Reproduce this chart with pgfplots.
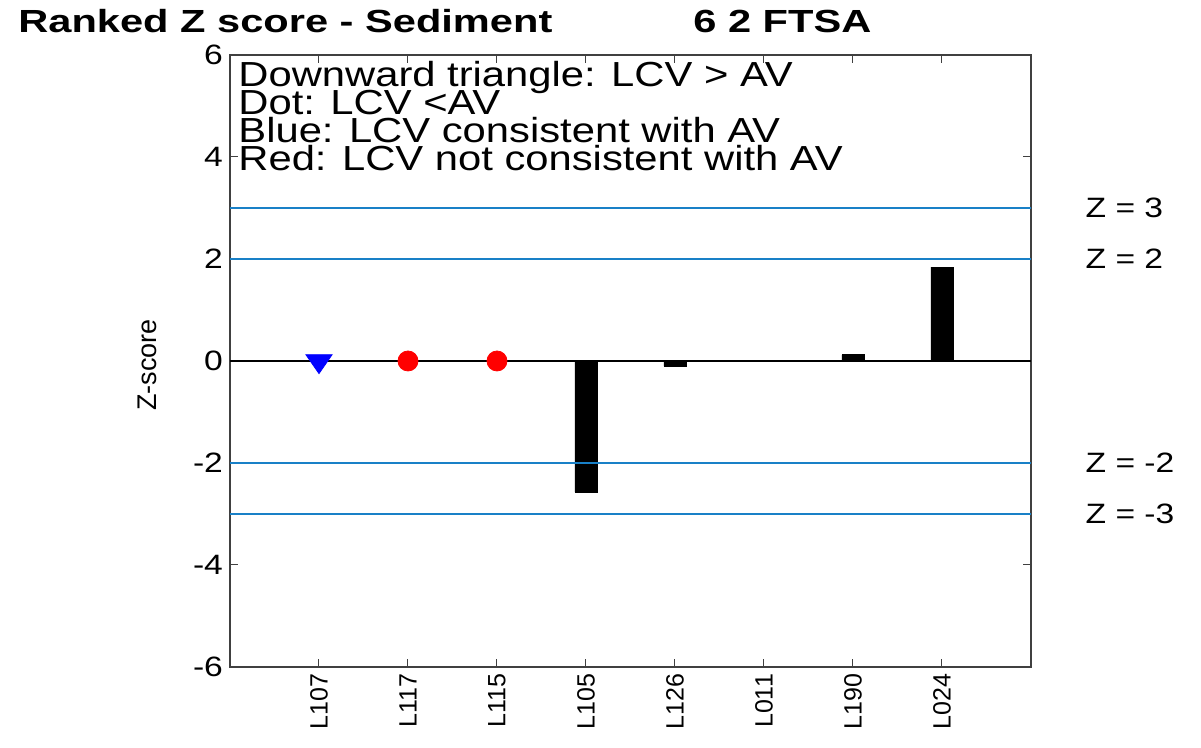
\documentclass[border=0pt]{standalone}
\usepackage{pgfplots}
\pgfplotsset{compat=1.18}
\usepackage{fontspec}
\setmainfont{Liberation Sans}[FakeStretch=1.2]
\newfontfamily\rotfont{Liberation Sans}
\newfontfamily\titlefont{Liberation Sans}[FakeStretch=1.3]
\definecolor{zline}{rgb}{0.1,0.5,0.78}
\newcommand{\tightlines}{\lineskiplimit=-30pt\relax\lineskip=0pt\relax}
\begin{document}
\begin{tikzpicture}
\useasboundingbox (-115pt,-40.5pt) rectangle (485.5pt,333.5pt);
\begin{axis}[
  at={(0pt,0pt)}, anchor=south west,
  scale only axis, width=400.5pt, height=306pt,
  xmin=0, xmax=9, ymin=-6, ymax=6,
  xtick={1,2,3,4,5,6,7,8},
  xticklabels={L107,L117,L115,L105,L126,L011,L190,L024},
  ytick={-6,-4,-2,0,2,4,6},
  tick align=inside, major tick length=4pt,
  xticklabel style={rotate=90, anchor=east, font=\rotfont\fontsize{12.5}{14}\selectfont},
  yticklabel style={font=\fontsize{14}{16}\selectfont},
  /pgf/number format/assume math mode=true,
  clip=false,
  axis line style={line width=0.6pt, black!75},
  tick style={line width=0.5pt, black!75},
]
% bars
\addplot[ybar, bar width=11pt, fill=black, draw=black] coordinates {
  (4,-2.57) (5,-0.10) (7,0.12) (8,1.84)};
% reference lines
\addplot[zline, line width=0.8pt] coordinates {(0,3) (9,3)};
\addplot[zline, line width=0.8pt] coordinates {(0,2) (9,2)};
\addplot[zline, line width=0.8pt] coordinates {(0,-2) (9,-2)};
\addplot[zline, line width=0.8pt] coordinates {(0,-3) (9,-3)};
\addplot[black, line width=1pt] coordinates {(0,0) (9,0)};
% markers
\addplot[only marks, mark=triangle*, mark size=6.3pt, blue, mark options={rotate=180, xscale=1.2, fill=blue, draw=blue}] coordinates {(1,0)};
\addplot[only marks, mark=*, mark size=5pt, red, mark options={fill=red, draw=red}] coordinates {(2,0) (3,0)};
% texts
\node[anchor=north west, align=left, inner sep=0pt, font=\fontsize{17.4}{14}\selectfont\tightlines] at (axis cs:0.09,5.88)
  {Downward triangle: LCV > AV\\Dot: LCV <AV\\Blue: LCV consistent with AV\\Red: LCV not consistent with AV};
\node[anchor=west, inner sep=0pt, font=\fontsize{14}{16}\selectfont] at (axis cs:9.61,3) {Z = 3};
\node[anchor=west, inner sep=0pt, font=\fontsize{14}{16}\selectfont] at (axis cs:9.61,2) {Z = 2};
\node[anchor=west, inner sep=0pt, font=\fontsize{14}{16}\selectfont] at (axis cs:9.61,-2) {Z = -2};
\node[anchor=west, inner sep=0pt, font=\fontsize{14}{16}\selectfont] at (axis cs:9.61,-3) {Z = -3};
\node[rotate=90, anchor=center, font=\rotfont\fontsize{13.5}{15}\selectfont] at (axis cs:-0.93,-0.08) {Z-score};
\end{axis}
\node[anchor=base west, inner sep=0pt, font=\titlefont\bfseries\fontsize{16}{18}\selectfont] at (-106pt,317pt) {Ranked Z score - Sediment};
\node[anchor=base west, inner sep=0pt, font=\titlefont\bfseries\fontsize{16}{18}\selectfont] at (231.5pt,317pt) {6 2 FTSA};
\end{tikzpicture}
\end{document}
